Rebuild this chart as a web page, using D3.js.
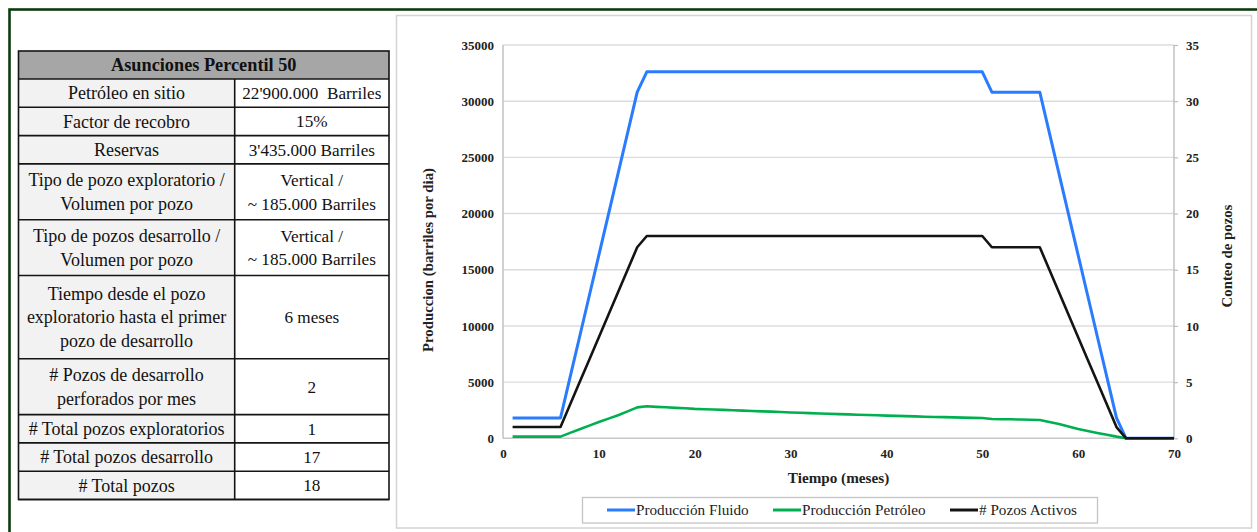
<!DOCTYPE html>
<html>
<head>
<meta charset="utf-8">
<script src="https://cdn.jsdelivr.net/npm/d3@7"></script>
<style>
  html, body { margin: 0; padding: 0; background: #fff; }
  svg { display: block; }
  text { font-family: "Liberation Serif", "Times New Roman", serif; }
</style>
</head>
<body>
<svg id="fig" width="1257" height="532"></svg>
<script>
// ---- Assumptions table ----
const tableTitle = "Asunciones Percentil 50";
const paramLabels = [
  ["Petróleo en sitio"],
  ["Factor de recobro"],
  ["Reservas"],
  ["Tipo de pozo exploratorio /", "Volumen por pozo"],
  ["Tipo de pozos desarrollo /", "Volumen por pozo"],
  ["Tiempo desde el pozo", "exploratorio hasta el primer", "pozo de desarrollo"],
  ["# Pozos de desarrollo", "perforados por mes"],
  ["# Total pozos exploratorios"],
  ["# Total pozos desarrollo"],
  ["# Total pozos"]
];
const paramValues = [
  ["22'900.000  Barriles"],
  ["15%"],
  ["3'435.000 Barriles"],
  ["Vertical /", "~ 185.000 Barriles"],
  ["Vertical /", "~ 185.000 Barriles"],
  ["6 meses"],
  ["2"],
  ["1"],
  ["17"],
  ["18"]
];

// ---- Production profile (monthly) ----
const months = [1,2,3,4,5,6,7,8,9,10,11,12,13,14,15,16,17,18,19,20,
  21,22,23,24,25,26,27,28,29,30,31,32,33,34,35,36,37,38,39,40,
  41,42,43,44,45,46,47,48,49,50,51,52,53,54,55,56,57,58,59,60,
  61,62,63,64,65,66,67,68,69,70];

const fluidProduction = [1812,1812,1812,1812,1812,1812,5436,9060,12684,16308,
  19932,23556,27180,30804,32616,32616,32616,32616,32616,32616,
  32616,32616,32616,32616,32616,32616,32616,32616,32616,32616,
  32616,32616,32616,32616,32616,32616,32616,32616,32616,32616,
  32616,32616,32616,32616,32616,32616,32616,32616,32616,32616,
  30804,30804,30804,30804,30804,30804,27180,23556,19932,16308,
  12684,9060,5436,1812,0,0,0,0,0,0];

const oilProduction = [150,150,150,150,150,150,480,800,1130,1450,
  1750,2050,2400,2750,2850,2800,2760,2710,2670,2620,
  2590,2560,2530,2500,2460,2430,2400,2370,2340,2300,
  2270,2240,2210,2180,2150,2130,2100,2080,2050,2020,
  2000,1970,1950,1920,1900,1880,1860,1840,1820,1800,
  1720,1700,1690,1670,1650,1630,1450,1270,1050,830,
  650,480,320,150,0,0,0,0,0,0];

const activeWells = [1,1,1,1,1,1,3,5,7,9,
  11,13,15,17,18,18,18,18,18,18,
  18,18,18,18,18,18,18,18,18,18,
  18,18,18,18,18,18,18,18,18,18,
  18,18,18,18,18,18,18,18,18,18,
  17,17,17,17,17,17,15,13,11,9,
  7,5,3,1,0,0,0,0,0,0];

const xTicks = [0,10,20,30,40,50,60,70];
const yLeftTicks = [0,5000,10000,15000,20000,25000,30000,35000];
const yRightTicks = [0,5,10,15,20,25,30,35];

const seriesNames = ["Producción Fluido", "Producción Petróleo", "# Pozos Activos"];
const seriesColors = ["#2a7cff", "#00b050", "#141414"];

const svg = d3.select("#fig");

// outer frame
svg.append("rect")
  .attr("x", 9.5).attr("y", 9.5).attr("width", 1270).attr("height", 540)
  .attr("fill", "none").attr("stroke", "#0d3b0d").attr("stroke-width", 2.6);

// ---- table ----
const tbl = svg.append("g");
const tLeft = 18.5, tMid = 234.7, tRight = 389;
const headerTop = 51, headerH = 28;
const lineH = 23.4;
const rowH = n => 28.3 + (n - 1) * 27.5;
const labelFont = 18, valueFont = 17.2;

tbl.append("rect")
  .attr("x", tLeft).attr("y", headerTop).attr("width", tRight - tLeft).attr("height", headerH)
  .attr("fill", "#a6a6a6");
tbl.append("text")
  .attr("x", (tLeft + tRight) / 2).attr("y", headerTop + headerH / 2)
  .attr("dy", "0.35em").attr("text-anchor", "middle")
  .attr("font-size", 18.3).attr("font-weight", "bold").attr("fill", "#111")
  .text(tableTitle);

let yCursor = headerTop + headerH;
const rowTops = [];
paramLabels.forEach((lab, i) => {
  const n = Math.max(lab.length, paramValues[i].length);
  const h = rowH(n);
  rowTops.push([yCursor, h]);
  tbl.append("rect").attr("x", tLeft).attr("y", yCursor).attr("width", tMid - tLeft).attr("height", h)
    .attr("fill", "#f2f2f2");
  tbl.append("rect").attr("x", tMid).attr("y", yCursor).attr("width", tRight - tMid).attr("height", h)
    .attr("fill", "#ffffff");
  const cy = yCursor + h / 2;
  [[lab, (tLeft + tMid) / 2, labelFont], [paramValues[i], (tMid + tRight) / 2, valueFont]].forEach(([lines, cx, fs]) => {
    const t = tbl.append("text").attr("text-anchor", "middle").attr("font-size", fs)
      .attr("fill", "#111").style("white-space", "pre");
    lines.forEach((s, k) => {
      t.append("tspan").attr("x", cx)
        .attr("y", cy + (k - (lines.length - 1) / 2) * lineH)
        .attr("dy", "0.35em").text(s);
    });
  });
  yCursor += h;
});
const tBottom = yCursor;

// table grid lines
const gridStroke = "#141414";
tbl.append("rect").attr("x", tLeft).attr("y", headerTop).attr("width", tRight - tLeft)
  .attr("height", tBottom - headerTop).attr("fill", "none").attr("stroke", gridStroke).attr("stroke-width", 1.6);
tbl.append("line").attr("x1", tLeft).attr("x2", tRight).attr("y1", headerTop + headerH).attr("y2", headerTop + headerH)
  .attr("stroke", gridStroke).attr("stroke-width", 1.6);
rowTops.forEach(([top, h]) => {
  tbl.append("line").attr("x1", tLeft).attr("x2", tRight).attr("y1", top + h).attr("y2", top + h)
    .attr("stroke", gridStroke).attr("stroke-width", 1.6);
});
tbl.append("line").attr("x1", tMid).attr("x2", tMid).attr("y1", headerTop + headerH).attr("y2", tBottom)
  .attr("stroke", gridStroke).attr("stroke-width", 1.6);

// ---- chart panel ----
svg.append("rect")
  .attr("x", 396.5).attr("y", 15.5).attr("width", 855).attr("height", 512.5)
  .attr("fill", "#fff").attr("stroke", "#d4d4d4").attr("stroke-width", 1.5);

const plot = { left: 503, right: 1174, top: 45, bottom: 438.3 };
const x = d3.scaleLinear().domain([0, 70]).range([plot.left, plot.right]);
const yL = d3.scaleLinear().domain([0, 35000]).range([plot.bottom, plot.top]);
const yR = d3.scaleLinear().domain([0, 35]).range([plot.bottom, plot.top]);

const chart = svg.append("g");

// horizontal gridlines
chart.append("g").selectAll("line").data(yLeftTicks).join("line")
  .attr("x1", plot.left).attr("x2", plot.right)
  .attr("y1", d => yL(d)).attr("y2", d => yL(d))
  .attr("stroke", d => d === 0 ? "#c8c8c8" : "#dcdcdc").attr("stroke-width", 1.4);

// left and right axis lines
chart.append("line").attr("x1", plot.left).attr("x2", plot.left).attr("y1", plot.top).attr("y2", plot.bottom)
  .attr("stroke", "#bdbdbd").attr("stroke-width", 1.4);
chart.append("line").attr("x1", plot.right).attr("x2", plot.right).attr("y1", plot.top).attr("y2", plot.bottom)
  .attr("stroke", "#bdbdbd").attr("stroke-width", 1.4);

const tickFont = 13;

// left axis
const axL = chart.append("g").attr("transform", `translate(${plot.left},0)`)
  .call(d3.axisLeft(yL).tickValues(yLeftTicks).tickSize(0).tickPadding(9).tickFormat(d3.format("d")));
axL.select(".domain").remove();
axL.selectAll("text").attr("font-size", tickFont).attr("font-weight", "bold").attr("fill", "#222");

// right axis
const axR = chart.append("g").attr("transform", `translate(${plot.right},0)`)
  .call(d3.axisRight(yR).tickValues(yRightTicks).tickSize(4).tickPadding(8).tickFormat(d3.format("d")));
axR.select(".domain").remove();
axR.selectAll("line").attr("stroke", "#bdbdbd").attr("stroke-width", 1.2);
axR.selectAll("text").attr("font-size", tickFont).attr("font-weight", "bold").attr("fill", "#222");

// bottom axis
const axB = chart.append("g").attr("transform", `translate(0,${plot.bottom})`)
  .call(d3.axisBottom(x).tickValues(xTicks).tickSize(0).tickPadding(10).tickFormat(d3.format("d")));
axB.select(".domain").remove();
axB.selectAll("text").attr("font-size", tickFont).attr("font-weight", "bold").attr("fill", "#222");

// axis titles
chart.append("text")
  .attr("transform", "translate(428,260) rotate(-90)")
  .attr("text-anchor", "middle").attr("dy", "0.35em")
  .attr("font-size", 14.8).attr("font-weight", "bold").attr("fill", "#222")
  .text("Produccion (barriles por dia)");
chart.append("text")
  .attr("transform", "translate(1227,256) rotate(-90)")
  .attr("text-anchor", "middle").attr("dy", "0.35em")
  .attr("font-size", 14.8).attr("font-weight", "bold").attr("fill", "#222")
  .text("Conteo de pozos");
chart.append("text")
  .attr("x", 838.5).attr("y", 477.5).attr("dy", "0.35em")
  .attr("text-anchor", "middle")
  .attr("font-size", 15.2).attr("font-weight", "bold").attr("fill", "#222")
  .text("Tiempo (meses)");

// series lines
const lineL = d3.line().x((d, i) => x(months[i])).y(d => yL(d));
const lineR = d3.line().x((d, i) => x(months[i])).y(d => yR(d));

chart.append("path").datum(fluidProduction).attr("d", lineL)
  .attr("fill", "none").attr("stroke", seriesColors[0]).attr("stroke-width", 3).attr("stroke-linejoin", "round");
chart.append("path").datum(oilProduction).attr("d", lineL)
  .attr("fill", "none").attr("stroke", seriesColors[1]).attr("stroke-width", 2.6).attr("stroke-linejoin", "round");
chart.append("path").datum(activeWells).attr("d", lineR)
  .attr("fill", "none").attr("stroke", seriesColors[2]).attr("stroke-width", 2.6).attr("stroke-linejoin", "round");

// legend
const leg = chart.append("g");
leg.append("rect").attr("x", 582.5).attr("y", 497.5).attr("width", 515).attr("height", 25.5)
  .attr("fill", "#fff").attr("stroke", "#c4c4c4").attr("stroke-width", 1.3);
const legX = [607, 773, 950];
seriesNames.forEach((name, i) => {
  leg.append("line").attr("x1", legX[i]).attr("x2", legX[i] + 28).attr("y1", 510).attr("y2", 510)
    .attr("stroke", seriesColors[i]).attr("stroke-width", 3);
  leg.append("text").attr("x", legX[i] + 29).attr("y", 510).attr("dy", "0.35em")
    .attr("font-size", 15.2).attr("fill", "#222").text(name);
});
</script>
</body>
</html>
